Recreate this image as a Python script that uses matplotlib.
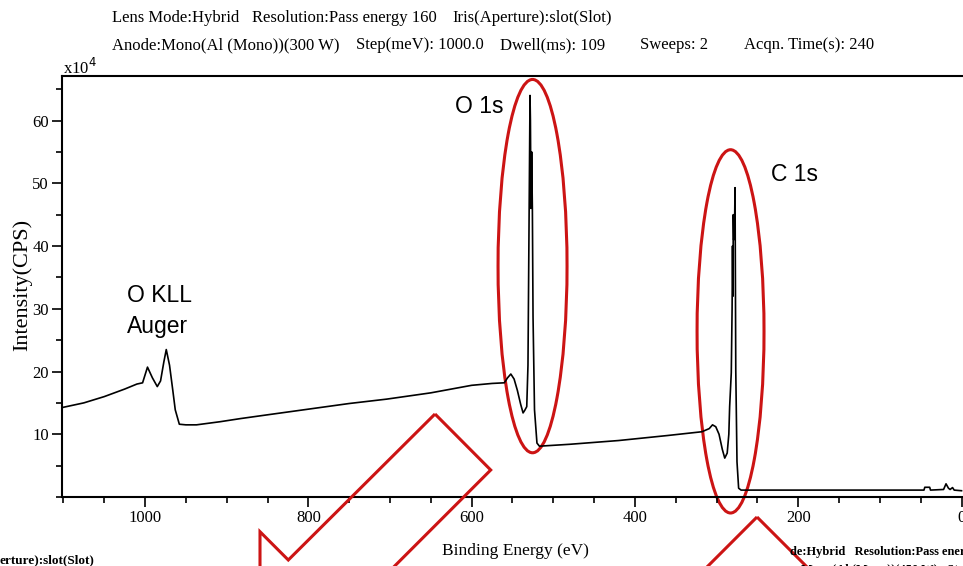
import matplotlib
matplotlib.use("Agg")
import matplotlib.pyplot as plt
from matplotlib.patches import Ellipse, Polygon
from matplotlib.ticker import MultipleLocator

# survey spectrum (binding energy in eV, intensity in 1e4 CPS)
energy = [1100, 1075, 1050, 1025, 1010, 1003, 997, 991, 985, 981, 977, 974, 970, 966,
          963, 958, 950, 937, 908, 883, 850, 800, 750, 704, 650, 600, 575, 560,
          556, 552, 548, 544, 540, 537, 535, 532.5, 531, 528.5, 528, 527.3, 526.5,
          525.6, 524.8, 523, 520, 517, 480, 420, 360, 318, 309, 305, 301, 297, 293,
          290, 287, 285, 284, 282, 281, 280.5, 280, 279.5, 279, 278, 277.4, 276.5,
          275, 273, 270, 46, 45, 39, 38, 22, 19, 16, 14, 11, 9, 0]
intensity = [14.3, 15.0, 16.0, 17.2, 18.0, 18.2, 20.7, 19.0, 17.6, 18.5, 21.5, 23.5, 21.0, 17.0,
             13.9, 11.6, 11.5, 11.5, 12.0, 12.5, 13.1, 14.0, 14.9, 15.6, 16.6, 17.8, 18.1, 18.2,
             19.0, 19.6, 18.8, 17.0, 14.8, 13.4, 13.8, 14.4, 21.0, 64.0, 60.0, 46.0, 55.0,
             45.8, 28.7, 13.9, 8.6, 8.1, 8.4, 9.0, 9.8, 10.4, 10.9, 11.5, 11.2, 10.0, 7.6,
             6.2, 7.0, 10.0, 14.4, 19.8, 30.0, 40.0, 32.0, 45.0, 41.0, 43.0, 49.3, 20.2,
             5.6, 1.4, 1.1, 1.1, 1.55, 1.55, 1.1, 1.2, 2.1, 1.4, 1.2, 1.5, 1.1, 1.0]

peak_labels = ["O 1s", "C 1s"]
peak_label_pos = [(620, 61.2), (233, 50.3)]
auger_label = ["O KLL", "Auger"]

header1 = ["Lens Mode:Hybrid", "Resolution:Pass energy 160", "Iris(Aperture):slot(Slot)"]
header1_x = [112, 252, 452]
header2 = ["Anode:Mono(Al (Mono))(300 W)", "Step(meV): 1000.0", "Dwell(ms): 109",
           "Sweeps: 2", "Acqn. Time(s): 240"]
header2_x = [112, 356, 500, 640, 744]

W, H = 963, 566
RED = "#cc1414"
serif = ["Liberation Serif", "DejaVu Serif"]
sans = ["Liberation Sans", "DejaVu Sans"]


def px(x, y):
    # pixel position (from top-left) -> figure fraction
    return (x / W, 1 - y / H)


fig = plt.figure(figsize=(W / 100, H / 100), dpi=100)
ax = fig.add_axes([62 / W, 1 - 497 / H, (W - 62) / W, (497 - 76) / H])

ax.plot(energy, intensity, color="black", lw=1.2)
ax.set_xlim(1101.7, -1.8)
ax.set_ylim(0, 67.1)

ax.xaxis.set_major_locator(MultipleLocator(200))
ax.xaxis.set_minor_locator(MultipleLocator(50))
ax.yaxis.set_major_locator(MultipleLocator(10))
ax.yaxis.set_minor_locator(MultipleLocator(5))
ax.set_yticks([10, 20, 30, 40, 50, 60])
ax.tick_params(axis="both", which="major", direction="out", length=7, width=1.2,
               labelsize=12, pad=2.5)
ax.tick_params(axis="both", which="minor", direction="out", length=4, width=1.2)
for lab in ax.get_xticklabels() + ax.get_yticklabels():
    lab.set_family(serif)
for side in ["left", "bottom", "top"]:
    ax.spines[side].set_linewidth(1.5)
ax.spines["right"].set_visible(False)

ax.set_xlabel("Binding Energy (eV)", family=serif, fontsize=12.5)
ax.xaxis.set_label_coords((515 - 62) / (W - 62), -(551 - 497) / (497 - 76))
ax.xaxis.label.set_va("center")
ax.set_ylabel("Intensity(CPS)", family=serif, fontsize=16)
ax.yaxis.set_label_coords((22 - 62) / (W - 62), 0.504)
ax.yaxis.label.set_va("center")

fig.text(*px(63, 74), "x10$^4$", family=serif, fontsize=12, va="baseline", ha="left")

# peak labels
for txt, (x, y) in zip(peak_labels, peak_label_pos):
    ax.text(x, y, txt, family=sans, fontsize=16.5, va="baseline", ha="left")
ax.text(1022, 31.0, auger_label[0], family=sans, fontsize=16.5, va="baseline", ha="left")
ax.text(1022, 26.2, auger_label[1], family=sans, fontsize=16.5, va="baseline", ha="left")

# red ellipses around the peaks
ax.add_patch(Ellipse((525.4, 36.8), 84.5, 59.5, fill=False, ec=RED, lw=2.2, clip_on=False))
ax.add_patch(Ellipse((282.9, 26.4), 82, 57.9, fill=False, ec=RED, lw=2.2, clip_on=False))

# hollow block arrows (cut by the lower edge)
arrow1 = [(435, 414), (490.7, 470), (344.3, 616.4), (372.6, 644.7), (260, 644.5),
          (260, 531.7), (288.3, 560)]
arrow2 = [(757, 517), (837, 597), (796.5, 597), (796.5, 800), (717.5, 800),
          (717.5, 597), (677, 597)]
for pts in [arrow1, arrow2]:
    fig.add_artist(Polygon([px(x, y) for x, y in pts], closed=True, fill=False,
                           ec=RED, lw=2.2, transform=fig.transFigure, clip_on=False))

# header lines
for txt, x in zip(header1, header1_x):
    fig.text(*px(x, 18), txt, family=serif, fontsize=12, va="center", ha="left")
for txt, x in zip(header2, header2_x):
    fig.text(*px(x, 45), txt, family=serif, fontsize=12, va="center", ha="left")

# pieces of another overlapping header at the bottom
fig.text(*px(0, 560), "erture):slot(Slot)", family=serif, fontsize=9.5,
         weight="bold", va="center", ha="left")
fig.text(*px(790, 552), "de:Hybrid   Resolution:Pass energy 160", family=serif,
         fontsize=9, weight="bold", va="center", ha="left")
fig.text(*px(790, 570), "n:Mono(Al (Mono))(450 W)   Step(meV): 1000.0", family=serif,
         fontsize=9, weight="bold", va="center", ha="left")

fig.savefig("out.png", dpi=100)
